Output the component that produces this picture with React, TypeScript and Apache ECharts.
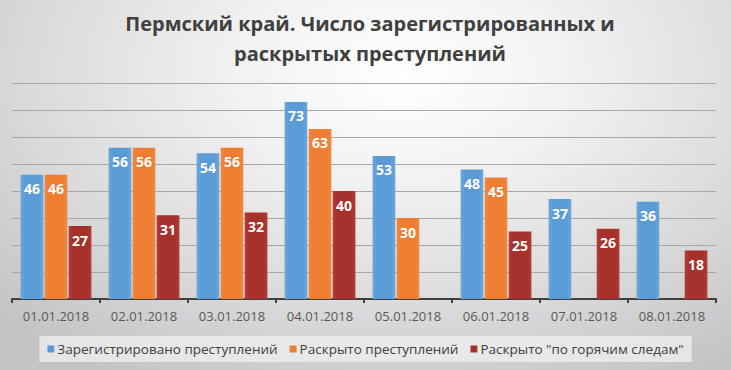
import React, { useEffect, useRef } from "react";
import * as echarts from "echarts";

const categories = [
  "01.01.2018",
  "02.01.2018",
  "03.01.2018",
  "04.01.2018",
  "05.01.2018",
  "06.01.2018",
  "07.01.2018",
  "08.01.2018",
];
const registered = [46, 56, 54, 73, 53, 48, 37, 36];
const solved = [46, 56, 56, 63, 30, 45, null, null];
const solvedHot = [27, 31, 32, 40, null, 25, 26, 18];
const seriesNames = [
  "Зарегистрировано преступлений",
  "Раскрыто преступлений",
  'Раскрыто "по горячим следам"',
];
const titleText = "Пермский край. Число зарегистрированных и\nраскрытых преступлений";

const FONT = "'Open Sans', 'Noto Sans', sans-serif";

function barGrad(edge: string, mid: string) {
  return new echarts.graphic.LinearGradient(0, 0, 1, 0, [
    { offset: 0, color: edge },
    { offset: 0.2, color: mid },
    { offset: 0.8, color: mid },
    { offset: 1, color: edge },
  ]);
}

export default function App() {
  const ref = useRef<HTMLDivElement>(null);
  useEffect(() => {
    if (!ref.current) return;
    const chart = echarts.init(ref.current, undefined, { renderer: "svg" });
    const label = {
      show: true,
      position: "insideTop",
      distance: 7,
      color: "#ffffff",
      fontFamily: FONT,
      fontWeight: "bold",
      fontSize: 14,
    };
    const colors = ["#5b9bd5", "#ed7d31", "#a5312a"];
    const edges = ["#6ba7dc", "#f08a45", "#b03d35"];
    const datas = [registered, solved, solvedHot];
    chart.setOption({
      animation: false,
      backgroundColor: "transparent",
      color: colors,
      title: {
        text: titleText,
        left: 365,
        top: 3,
        textAlign: "center",
        textStyle: {
          fontFamily: FONT,
          fontWeight: "bold",
          fontSize: 20,
          lineHeight: 30,
          color: "#404040",
          align: "center",
        },
      },
      legend: {
        bottom: 8,
        left: "center",
        icon: "rect",
        itemWidth: 7,
        itemHeight: 7,
        itemGap: 12,
        backgroundColor: "rgba(240,240,240,0.75)",
        padding: [6, 8, 6, 8],
        textStyle: {
          fontFamily: FONT,
          fontSize: 13.5,
          color: "#404040",
          padding: [0, 0, 0, -2],
        },
        data: seriesNames,
      },
      grid: { left: 12, right: 15, top: 83, bottom: 71 },
      xAxis: {
        type: "category",
        data: categories,
        axisLine: { lineStyle: { color: "#404040", width: 2 } },
        axisTick: { show: true, length: 4, lineStyle: { color: "#404040", width: 2 } },
        axisLabel: {
          fontFamily: FONT,
          fontSize: 13,
          color: "#595959",
          margin: 10,
        },
      },
      yAxis: {
        type: "value",
        min: 0,
        max: 80,
        interval: 10,
        axisLabel: { show: false },
        axisLine: { show: false },
        axisTick: { show: false },
        splitLine: { lineStyle: { color: "#a8a8a8", width: 1 } },
      },
      series: datas.map((d, i) => ({
        name: seriesNames[i],
        type: "bar",
        data: d,
        barWidth: 22.7,
        barGap: "6%",
        itemStyle: { color: barGrad(edges[i], colors[i]) },
        label,
      })),
    });
    return () => chart.dispose();
  }, []);
  return (
    <div
      ref={ref}
      style={{
        position: "absolute",
        left: 0,
        top: 0,
        width: 731,
        height: 370,
        background:
          "radial-gradient(ellipse 75% 95% at 55% 20%, #ffffff 0%, #f2f2f2 30%, #dcdcdc 65%, #c4c4c4 100%)",
      }}
    />
  );
}
